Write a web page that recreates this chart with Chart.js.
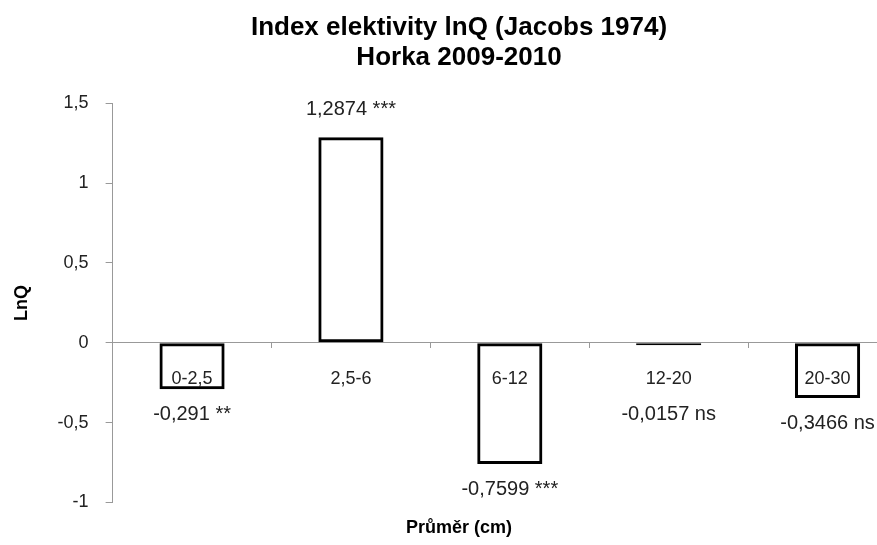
<!DOCTYPE html>
<html>
<head>
<meta charset="utf-8">
<script src="https://cdn.jsdelivr.net/npm/chart.js@4"></script>
<style>
  html, body { margin: 0; padding: 0; background: #fff; }
  #wrap { width: 877px; height: 545px; overflow: hidden; }
</style>
</head>
<body>
<div id="wrap"><canvas id="elektivita" width="910" height="545"></canvas></div>
<script>
// Index elektivity lnQ - Horka 2009-2010
const categories = ['0-2,5', '2,5-6', '6-12', '12-20', '20-30'];
const lnQ = [-0.291, 1.2874, -0.7599, -0.0157, -0.3466];
const significance = ['**', '***', '***', 'ns', 'ns'];
const yMin = -1;
const yMax = 1.5;
const yStep = 0.5;

const fmt = v => String(v).replace('.', ',');

// popisky hodnot u sloupcu
const valueLabels = {
    id: 'valueLabels',
    afterDatasetsDraw(chart) {
        const ctx = chart.ctx;
        const meta = chart.getDatasetMeta(0);
        const zeroY = chart.scales.y.getPixelForValue(0);
        ctx.save();
        ctx.font = '20px "Liberation Sans", Arial, sans-serif';
        ctx.fillStyle = '#222';
        ctx.textAlign = 'center';
        ctx.textBaseline = 'middle';
        meta.data.forEach((bar, i) => {
            const v = lnQ[i];
            const text = fmt(v) + ' ' + significance[i];
            let y;
            if (v >= 0) {
                y = bar.y - 28;
            } else {
                y = Math.max(bar.y, zeroY + 47) + 25;
            }
            ctx.fillText(text, bar.x, y);
        });
        ctx.restore();
    }
};

const ctx = document.getElementById('elektivita').getContext('2d');

new Chart(ctx, {
    type: 'bar',
    data: {
        labels: categories,
        datasets: [{
            data: lnQ,
            backgroundColor: 'rgba(255,255,255,0)',
            borderColor: '#000',
            borderWidth: 3,
            borderSkipped: false,
            categoryPercentage: 1,
            barPercentage: 0.41
        }]
    },
    options: {
        responsive: false,
        animation: false,
        layout: {
            padding: { left: 11, right: 3, top: 6, bottom: 2 }
        },
        plugins: {
            legend: { display: false },
            tooltip: { enabled: false },
            title: {
                display: true,
                text: ['Index elektivity lnQ (Jacobs 1974)', 'Horka 2009-2010'],
                color: '#000',
                font: { family: '"Liberation Sans", Arial, sans-serif', size: 26, weight: 'bold', lineHeight: 1.18 },
                padding: { top: 6, bottom: 30 }
            },
            subtitle: {
                display: true,
                position: 'bottom',
                text: 'Průměr (cm)',
                color: '#000',
                font: { family: '"Liberation Sans", Arial, sans-serif', size: 18, weight: 'bold' },
                padding: { top: 15, bottom: 4 }
            }
        },
        scales: {
            x: {
                position: { y: 0 },
                grid: {
                    display: true,
                    drawOnChartArea: false,
                    drawTicks: true,
                    tickLength: 5,
                    color: '#999',
                    offset: true
                },
                border: { display: true, color: '#999', width: 1 },
                ticks: {
                    color: '#222',
                    font: { family: '"Liberation Sans", Arial, sans-serif', size: 18 },
                    padding: 20,
                    maxRotation: 0
                }
            },
            y: {
                min: yMin,
                max: yMax,
                grid: {
                    drawOnChartArea: false,
                    drawTicks: true,
                    tickLength: 7,
                    color: '#999'
                },
                border: { display: true, color: '#999', width: 1 },
                ticks: {
                    stepSize: yStep,
                    color: '#222',
                    font: { family: '"Liberation Sans", Arial, sans-serif', size: 18 },
                    padding: 17,
                    callback: v => fmt(v)
                },
                title: {
                    display: true,
                    text: 'LnQ',
                    color: '#000',
                    font: { family: '"Liberation Sans", Arial, sans-serif', size: 18, weight: 'bold' },
                    padding: { top: 0, bottom: 8 }
                }
            }
        }
    },
    plugins: [valueLabels]
});
</script>
</body>
</html>
